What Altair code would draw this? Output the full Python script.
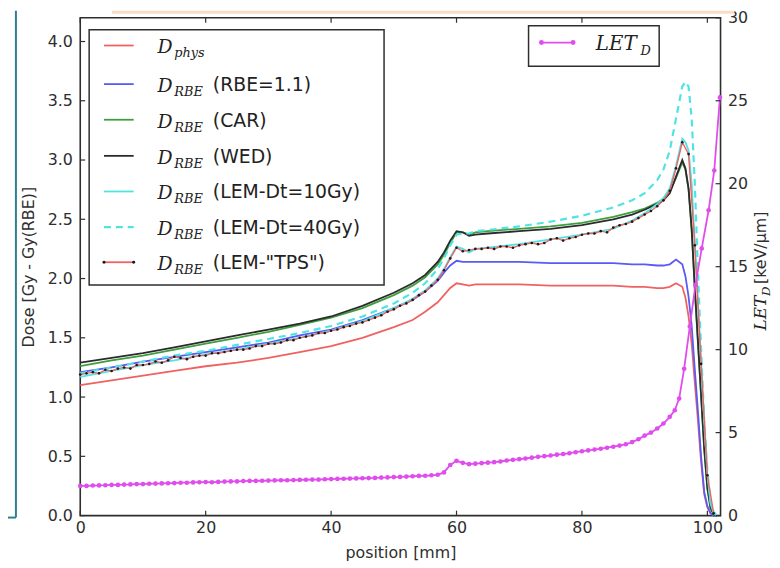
import altair as alt
import pandas as pd

# ---------------- data ----------------
x_pos = [0, 5, 10, 15, 20, 25, 30, 35, 40, 45,
         50, 53, 55, 57, 58, 59, 60, 61, 62, 63,
         65, 70, 75, 80, 85, 88, 90, 92, 93, 94,
         95, 96, 96.5, 97, 97.5, 98, 98.5, 99, 99.5, 100,
         100.5, 101, 101.5]

d_phys = [1.10, 1.14, 1.18, 1.22, 1.26, 1.29, 1.33, 1.38, 1.43, 1.50,
          1.59, 1.65, 1.72, 1.80, 1.86, 1.92, 1.96, 1.95, 1.94, 1.95,
          1.95, 1.95, 1.94, 1.94, 1.94, 1.93, 1.93, 1.92, 1.92, 1.93,
          1.96, 1.93, 1.84, 1.68, 1.45, 1.12, 0.80, 0.45, 0.18, 0.07,
          0.02, 0.0, 0.0]

d_rbe11 = [1.21, 1.25, 1.30, 1.34, 1.38, 1.42, 1.46, 1.52, 1.57, 1.65,
           1.75, 1.82, 1.89, 1.98, 2.05, 2.11, 2.15, 2.14, 2.14, 2.14,
           2.14, 2.14, 2.13, 2.13, 2.13, 2.12, 2.12, 2.11, 2.11, 2.12,
           2.16, 2.12, 2.02, 1.85, 1.60, 1.23, 0.88, 0.50, 0.20, 0.08,
           0.02, 0.0, 0.0]

d_car = [1.26, 1.31, 1.35, 1.40, 1.45, 1.50, 1.55, 1.61, 1.67, 1.75,
         1.86, 1.94, 2.01, 2.12, 2.20, 2.30, 2.39, 2.39, 2.37, 2.39,
         2.40, 2.42, 2.44, 2.47, 2.52, 2.56, 2.59, 2.64, 2.67, 2.73,
         2.85, 2.98, 2.92, 2.75, 2.40, 1.90, 1.45, 1.00, 0.55, 0.22,
         0.06, 0.01, 0.0]

d_wed = [1.29, 1.33, 1.37, 1.42, 1.47, 1.52, 1.57, 1.62, 1.68, 1.77,
         1.88, 1.96, 2.03, 2.14, 2.22, 2.32, 2.40, 2.39, 2.36, 2.37,
         2.38, 2.40, 2.42, 2.45, 2.50, 2.54, 2.58, 2.63, 2.66, 2.72,
         2.86, 3.00, 2.93, 2.76, 2.42, 1.92, 1.47, 1.02, 0.57, 0.24,
         0.07, 0.01, 0.0]

d_lem10 = [1.17, 1.22, 1.27, 1.31, 1.36, 1.40, 1.45, 1.50, 1.56, 1.64,
           1.75, 1.83, 1.90, 2.00, 2.08, 2.18, 2.27, 2.25, 2.22, 2.25,
           2.26, 2.29, 2.33, 2.37, 2.42, 2.49, 2.55, 2.63, 2.68, 2.76,
           2.95, 3.18, 3.15, 3.08, 2.80, 2.30, 1.80, 1.30, 0.80, 0.35,
           0.10, 0.02, 0.0]

d_lem40 = [1.20, 1.25, 1.30, 1.35, 1.39, 1.44, 1.49, 1.54, 1.60, 1.68,
           1.79, 1.88, 1.96, 2.08, 2.17, 2.28, 2.37, 2.38, 2.38, 2.40,
           2.41, 2.44, 2.48, 2.53, 2.60, 2.66, 2.72, 2.83, 2.92, 3.08,
           3.35, 3.62, 3.66, 3.62, 3.35, 2.80, 2.05, 1.40, 0.80, 0.38,
           0.12, 0.03, 0.0]

tps_x = list(range(0, 102))
d_tps = [1.19, 1.20, 1.21, 1.20, 1.23, 1.22, 1.24, 1.25, 1.24, 1.27,
         1.27, 1.28, 1.30, 1.29, 1.31, 1.34, 1.33, 1.32, 1.34, 1.35,
         1.35, 1.37, 1.37, 1.38, 1.39, 1.40, 1.40, 1.41, 1.43, 1.43,
         1.45, 1.45, 1.46, 1.48, 1.48, 1.50, 1.51, 1.52, 1.54, 1.54,
         1.56, 1.57, 1.59, 1.60, 1.62, 1.63, 1.65, 1.67, 1.69, 1.72,
         1.74, 1.77, 1.79, 1.82, 1.86, 1.89, 1.94, 1.99, 2.07, 2.17,
         2.26, 2.23, 2.24, 2.25, 2.25, 2.26, 2.25, 2.27, 2.27, 2.26,
         2.28, 2.29, 2.30, 2.29, 2.30, 2.33, 2.34, 2.32, 2.34, 2.35,
         2.37, 2.38, 2.38, 2.40, 2.39, 2.43, 2.45, 2.46, 2.48, 2.51,
         2.54, 2.57, 2.61, 2.66, 2.74, 2.93, 3.15, 3.05, 2.28, 1.28,
         0.34, 0.02]

let_x = list(range(0, 95)) + [94.8, 95.5, 96.3, 97.2, 98.1, 99.1, 100.2, 101.1, 102.0]
let_d = [1.79, 1.79, 1.81, 1.82, 1.83, 1.85, 1.85, 1.87, 1.88, 1.90,
         1.90, 1.92, 1.93, 1.94, 1.95, 1.96, 1.98, 1.98, 2.00, 2.01,
         2.02, 2.01, 2.03, 2.05, 2.06, 2.06, 2.08, 2.09, 2.09, 2.10,
         2.11, 2.12, 2.13, 2.13, 2.14, 2.15, 2.16, 2.17, 2.17, 2.19,
         2.20, 2.21, 2.22, 2.23, 2.24, 2.25, 2.26, 2.27, 2.29, 2.30,
         2.32, 2.33, 2.35, 2.37, 2.39, 2.40, 2.43, 2.46, 2.60, 3.05,
         3.30, 3.18, 3.10, 3.13, 3.16, 3.19, 3.22, 3.26, 3.32, 3.36,
         3.40, 3.44, 3.49, 3.54, 3.58, 3.62, 3.67, 3.71, 3.76, 3.82,
         3.88, 3.93, 3.98, 4.03, 4.09, 4.15, 4.22, 4.30, 4.43, 4.60,
         4.82, 5.00, 5.25, 5.55, 5.95,
         6.35, 7.05, 8.85, 11.40, 13.90, 16.10, 18.40, 20.80, 25.20]

x_ticks = [0, 20, 40, 60, 80, 100]
dose_ticks = [0.0, 0.5, 1.0, 1.5, 2.0, 2.5, 3.0, 3.5, 4.0]
let_ticks = [0, 5, 10, 15, 20, 25, 30]

legend_subs = ["phys", "RBE", "RBE", "RBE", "RBE", "RBE", "RBE"]
legend_texts = ["", "(RBE=1.1)", "(CAR)", "(WED)", "(LEM-Dt=10Gy)", "(LEM-Dt=40Gy)", '(LEM-"TPS")']

# ---------------- styling / layout ----------------
W, H = 647, 503
X_DOMAIN = [0, 102.1]
DOSE_DOMAIN = [0, 4.2]
LET_DOMAIN = [0, 30]
FONT = "DejaVu Sans"
SERIF = "DejaVu Serif"
INK = "#2e2e2e"

C_RED = "#F06262"
C_BLUE = "#5A5AF5"
C_GREEN = "#3E9E3E"
C_BLACK = "#2B2B2B"
C_CYAN = "#4FE3E3"
C_MAG = "#E04CEE"

one = pd.DataFrame({"k": [0]})


def xenc(field):
    return alt.X(f"{field}:Q",
                 scale=alt.Scale(domain=X_DOMAIN, nice=False, zero=False),
                 axis=alt.Axis(values=x_ticks, title="position [mm]", ticks=False, domain=False,
                               grid=False, labelPadding=4, titlePadding=9, format="d",
                               labelFlush=False))


def ydose(field):
    return alt.Y(f"{field}:Q",
                 scale=alt.Scale(domain=DOSE_DOMAIN, nice=False, zero=False),
                 axis=alt.Axis(values=dose_ticks, orient="left", title="Dose [Gy - Gy(RBE)]",
                               ticks=False, domain=False, grid=False, labelPadding=8,
                               titlePadding=11, format=".1f", labelFlush=False))


def ylet(field):
    return alt.Y(f"{field}:Q",
                 scale=alt.Scale(domain=LET_DOMAIN, nice=False, zero=False),
                 axis=alt.Axis(values=let_ticks, orient="right", title="", ticks=False,
                               domain=False, grid=False, labelPadding=7, format="d",
                               labelFlush=False))


def txt(px, py, s, size, font=FONT, style="normal", align="left",
        baseline="alphabetic", angle=0, color="#222222"):
    return alt.Chart(one).mark_text(
        text=s, font=font, fontSize=size, fontStyle=style, align=align,
        baseline=baseline, angle=angle, color=color
    ).encode(x=alt.value(px), y=alt.value(py))


def dose_line(xs, ys, color, width=1.8, dash=None):
    df = pd.DataFrame({"x": xs, "y": ys})
    kw = dict(color=color, strokeWidth=width)
    if dash:
        kw["strokeDash"] = dash
    return alt.Chart(df).mark_line(**kw).encode(x=xenc("x"), y=ydose("y"))


def hseg(x1, x2, y, color, width=1.8, dash=None):
    kw = dict(color=color, strokeWidth=width)
    if dash:
        kw["strokeDash"] = dash
    return alt.Chart(one).mark_rule(**kw).encode(x=alt.value(x1), x2=alt.value(x2), y=alt.value(y))


def dot(px, py, color, size):
    return alt.Chart(one).mark_circle(color=color, size=size, opacity=1).encode(
        x=alt.value(px), y=alt.value(py))


# ---------------- slide decorations ----------------
deco = [
    alt.Chart(one).mark_rect(color="#FBDCC4").encode(
        x=alt.value(32), x2=alt.value(661), y=alt.value(-7), y2=alt.value(-4)),
    alt.Chart(one).mark_rule(color="#2E7F8E", strokeWidth=2).encode(
        x=alt.value(-65), y=alt.value(-7), y2=alt.value(505)),
    alt.Chart(one).mark_rule(color="#2E7F8E", strokeWidth=2).encode(
        x=alt.value(-73), x2=alt.value(-65), y=alt.value(505)),
]

# ---------------- inward ticks ----------------
xt = pd.DataFrame({"t": x_ticks})
dt = pd.DataFrame({"t": dose_ticks})
lt = pd.DataFrame({"t": let_ticks})
ticks_a = [
    alt.Chart(xt).mark_rule(color=INK, strokeWidth=1.2).encode(
        x=xenc("t"), y=alt.value(H), y2=alt.value(H - 5)),
    alt.Chart(xt).mark_rule(color=INK, strokeWidth=1.2).encode(
        x=xenc("t"), y=alt.value(0), y2=alt.value(5)),
    alt.Chart(dt).mark_rule(color=INK, strokeWidth=1.2).encode(
        y=ydose("t"), x=alt.value(0), x2=alt.value(5)),
]

# ---------------- dose curves ----------------
tps_df = pd.DataFrame({"x": tps_x, "y": d_tps})
curves = [
    dose_line(x_pos, d_phys, C_RED),
    dose_line(x_pos, d_rbe11, C_BLUE),
    dose_line(x_pos, d_car, C_GREEN),
    dose_line(x_pos, d_wed, C_BLACK),
    dose_line(x_pos, d_lem10, C_CYAN),
    dose_line(x_pos, d_lem40, C_CYAN, width=2.2, dash=[7, 5]),
    dose_line(tps_x, d_tps, C_RED, width=1.4),
    alt.Chart(tps_df).mark_circle(color="#1a1a1a", size=7, opacity=1).encode(
        x=xenc("x"), y=ydose("y")),
]

# ---------------- legend 1 ----------------
row_y = [28, 67, 103, 139.5, 175.5, 211.5, 247]
row_col = [C_RED, C_BLUE, C_GREEN, C_BLACK, C_CYAN, C_CYAN, C_RED]
leg1 = [alt.Chart(one).mark_rect(fill="white", stroke=INK, strokeWidth=1.5).encode(
    x=alt.value(9), x2=alt.value(307), y=alt.value(12), y2=alt.value(270))]
for i, ly in enumerate(row_y):
    if i == 5:
        leg1.append(hseg(24, 54, ly, row_col[i], width=2.2, dash=[7, 5]))
    else:
        leg1.append(hseg(24, 54, ly, row_col[i]))
    if i == 6:
        leg1.append(dot(24, ly, "#1a1a1a", 9))
        leg1.append(dot(54, ly, "#1a1a1a", 9))
    leg1.append(txt(78, ly + 8, "D", 19, font=SERIF, style="italic"))
    leg1.append(txt(95, ly + 12, legend_subs[i], 13, font=SERIF, style="italic"))
    if legend_texts[i]:
        leg1.append(txt(134, ly + 7, legend_texts[i], 19, color="#222222"))

group_a = alt.layer(*deco, *ticks_a, *curves, *leg1)

# ---------------- LET (right axis) ----------------
let_df = pd.DataFrame({"x": let_x, "y": let_d})
let_layers = [
    alt.Chart(let_df).mark_line(color=C_MAG, strokeWidth=1.8).encode(x=xenc("x"), y=ylet("y")),
    alt.Chart(let_df).mark_circle(color=C_MAG, size=22, opacity=1).encode(x=xenc("x"), y=ylet("y")),
    alt.Chart(lt).mark_rule(color=INK, strokeWidth=1.2).encode(
        y=ylet("t"), x=alt.value(W), x2=alt.value(W - 5)),
    # legend 2
    alt.Chart(one).mark_rect(fill="white", stroke=INK, strokeWidth=1.5).encode(
        x=alt.value(453), x2=alt.value(585), y=alt.value(8), y2=alt.value(49)),
    hseg(466, 498, 25, C_MAG),
    dot(466, 25, C_MAG, 24),
    dot(498, 25, C_MAG, 24),
    txt(521, 33, "LET", 20, font=SERIF, style="italic"),
    txt(566, 38, "D", 13, font=SERIF, style="italic"),
    # right axis title (rotated)
    txt(688, 316, "LET", 17, font=SERIF, style="italic", baseline="middle", angle=270),
    txt(693, 281, "D", 12, font=SERIF, style="italic", baseline="middle", angle=270),
    txt(688, 269, "[keV/\u00b5m]", 16, baseline="middle", angle=270, color=INK),
]
group_b = alt.layer(*let_layers)

chart = alt.layer(group_a, group_b).resolve_scale(y="independent").properties(
    width=W, height=H,
    padding={"left": 73, "top": 7, "right": 52, "bottom": 44},
    autosize=alt.AutoSizeParams(type="none"),
    background="white",
).configure_view(
    stroke=INK, strokeWidth=1.6
).configure_axis(
    labelFont=FONT, labelFontSize=16, labelColor=INK,
    titleFont=FONT, titleFontSize=16, titleColor=INK, titleFontWeight="normal",
)

chart.save("out.html", embed_options={"renderer": "svg", "actions": False})
